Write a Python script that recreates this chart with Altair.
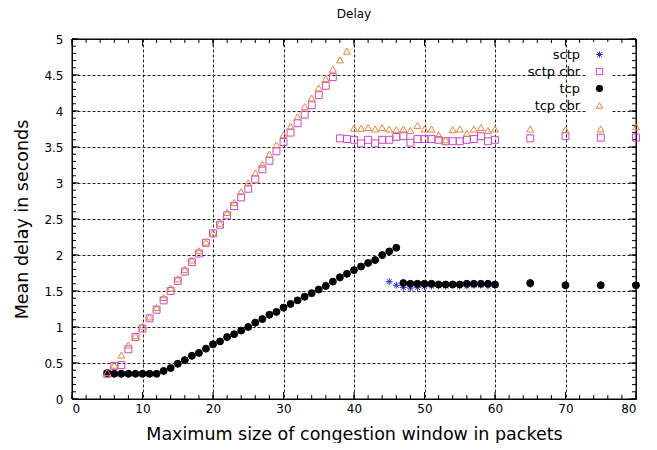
import altair as alt
import pandas as pd

# ---- data ----
window = list(range(5, 61)) + [65, 70, 75, 80]

sctp_y = [0.35, 0.35, 0.35, 0.35, 0.35, 0.35, 0.35, 0.35,
          0.38, 0.43, 0.48, 0.53, 0.59, 0.64, 0.69, 0.75, 0.80, 0.85,
          0.90, 0.95, 1.00, 1.05, 1.11, 1.16, 1.21, 1.26, 1.32, 1.37,
          1.42, 1.47, 1.52, 1.58, 1.63, 1.68, 1.73, 1.79, 1.84, 1.88,
          1.93, 1.99,
          1.63, 1.58, 1.55, 1.54, 1.55, 1.56, 1.57, 1.57, 1.57, 1.58,
          1.57, 1.57, 1.58, 1.58, 1.57, 1.58,
          1.59, 1.58, 1.58, 1.58]

sctp_cbr_y = [0.35, 0.46, 0.47, 0.69, 0.86, 0.98, 1.12, 1.24, 1.37, 1.50,
              1.64, 1.77, 1.90, 2.02, 2.17, 2.30, 2.42, 2.55, 2.68, 2.80,
              2.92, 3.05, 3.19, 3.31, 3.44, 3.57, 3.70, 3.83, 3.95, 4.08,
              4.22, 4.35, 4.47,
              3.62, 3.61, 3.60, 3.55, 3.60, 3.55, 3.60, 3.60, 3.64, 3.65,
              3.56, 3.61, 3.61, 3.61, 3.60, 3.58, 3.58, 3.58, 3.60, 3.61,
              3.65, 3.58, 3.60,
              3.62, 3.65, 3.63, 3.63]

tcp_y = [0.36, 0.35, 0.35, 0.35, 0.35, 0.35, 0.35, 0.35,
         0.39, 0.43, 0.49, 0.54, 0.60, 0.64, 0.70, 0.76, 0.80, 0.86,
         0.90, 0.95, 1.00, 1.06, 1.11, 1.17, 1.21, 1.27, 1.32, 1.37,
         1.42, 1.47, 1.52, 1.57, 1.63, 1.69, 1.74, 1.79, 1.84, 1.89,
         1.93, 2.00, 2.05, 2.10,
         1.61, 1.60, 1.60, 1.60, 1.60, 1.59, 1.59, 1.59, 1.59, 1.60,
         1.60, 1.60, 1.60, 1.59,
         1.61, 1.58, 1.58, 1.58]

tcp_cbr_y = [0.37, 0.47, 0.61, 0.75, 0.88, 1.01, 1.14, 1.27, 1.41, 1.54,
             1.67, 1.80, 1.93, 2.06, 2.18, 2.31, 2.44, 2.59, 2.73, 2.88,
             3.00, 3.14, 3.26, 3.40, 3.53, 3.67, 3.79, 3.92, 4.06, 4.18,
             4.32, 4.45, 4.58, 4.71, 4.83,
             3.76, 3.76, 3.77, 3.75, 3.77, 3.75, 3.74, 3.75, 3.73, 3.80,
             3.75, 3.75, 3.67, 3.60, 3.74, 3.75, 3.69, 3.75, 3.77, 3.73,
             3.75,
             3.75, 3.74, 3.75, 3.78]

series = ["sctp", "sctp cbr", "tcp", "tcp cbr"]
stroke_colors = ["#2a2ae0", "#cc44cc", "#000000", "#e8823c"]
fill_colors = ["transparent", "transparent", "#000000", "transparent"]
STAR = "M-1,0H1M0,-1V1M-0.7,-0.7L0.7,0.7M-0.7,0.7L0.7,-0.7"
shapes = [STAR, "square", "circle", "triangle-up"]

x_major = list(range(0, 81, 10))
x_minor = list(range(0, 81, 2))
y_major = [0, 0.5, 1, 1.5, 2, 2.5, 3, 3.5, 4, 4.5, 5]
y_minor = [round(i * 0.1, 1) for i in range(0, 51)]

rows = []
for name, ys in zip(series, [sctp_y, sctp_cbr_y, tcp_y, tcp_cbr_y]):
    for xv, yv in zip(window, ys):
        rows.append({"window": xv, "delay": yv, "series": name})
df = pd.DataFrame(rows)

FONT = "DejaVu Sans"
W, H = 564, 360
xs = alt.Scale(domain=[0, 80], nice=False, zero=False)
ysc = alt.Scale(domain=[0, 5], nice=False, zero=False)

x_axis = alt.Axis(orient="bottom", values=x_major, format="d",
                  grid=True, gridDash=[3, 2], gridColor="#222222",
                  gridWidth=1, ticks=False, tickSize=0,
                  domain=True, domainColor="#000000", domainWidth=1,
                  labelPadding=4, labelFont=FONT, labelFontSize=12,
                  labelColor="#000000",
                  title="Maximum size of congestion window in packets",
                  titleFont=FONT, titleFontSize=17.5,
                  titleFontWeight="normal", titleColor="#000000",
                  titlePadding=11)
y_axis = alt.Axis(orient="left", values=y_major, format="~g",
                  grid=True, gridDash=[3, 2], gridColor="#222222",
                  gridWidth=1, ticks=False, tickSize=0,
                  domain=True, domainColor="#000000", domainWidth=1,
                  labelPadding=9, labelFont=FONT, labelFontSize=12,
                  labelColor="#000000",
                  title="Mean delay in seconds",
                  titleFont=FONT, titleFontSize=17.5,
                  titleFontWeight="normal", titleColor="#000000",
                  titlePadding=12)


def xticks(vals, edge, length):
    inner = edge - length if edge > 0 else edge + length
    return alt.Chart(pd.DataFrame({"v": vals})).mark_rule(
        color="#000000", strokeWidth=1).encode(
        x=alt.X("v:Q", scale=xs, axis=None),
        y=alt.value(edge), y2=alt.value(inner))


def yticks(vals, edge, length):
    inner = edge - length if edge > 0 else edge + length
    return alt.Chart(pd.DataFrame({"v": vals})).mark_rule(
        color="#000000", strokeWidth=1).encode(
        y=alt.Y("v:Q", scale=ysc, axis=None),
        x=alt.value(edge), x2=alt.value(inner))


# box round the plot, from the domain ends of both scales
box = alt.Chart(pd.DataFrame({"x0": [0], "x1": [80], "y0": [0], "y1": [5]})).mark_rect(
    fill="transparent", stroke="#000000", strokeWidth=1).encode(
    x=alt.X("x0:Q", scale=xs, axis=None), x2="x1:Q",
    y=alt.Y("y0:Q", scale=ysc, axis=None), y2="y1:Q")

leg = alt.Legend(title=None, orient="none", legendX=515, legendY=3,
                 fillColor="#ffffff", padding=6, labelAlign="right",
                 labelOffset={"expr": "-26"}, labelFont=FONT, labelFontSize=13,
                 labelColor="#000000", symbolSize=40, symbolStrokeWidth=1,
                 rowPadding=3)

points = alt.Chart(df).mark_point(size=48, strokeWidth=1, opacity=1).encode(
    x=alt.X("window:Q", scale=xs, axis=x_axis),
    y=alt.Y("delay:Q", scale=ysc, axis=y_axis),
    stroke=alt.Stroke("series:N", scale=alt.Scale(domain=series, range=stroke_colors), legend=leg),
    fill=alt.Fill("series:N", scale=alt.Scale(domain=series, range=fill_colors), legend=leg),
    shape=alt.Shape("series:N", scale=alt.Scale(domain=series, range=shapes), legend=leg),
)

chart = alt.layer(
    box,
    xticks(x_major, H, 7), xticks(x_minor, H, 4),
    xticks(x_major, 0, 7), xticks(x_minor, 0, 4),
    yticks(y_major, 0, 7), yticks(y_minor, 0, 4),
    yticks(y_major, W, 7), yticks(y_minor, W, 4),
    points,
).resolve_axis(x="independent", y="independent").properties(
    width=W, height=H,
    autosize=alt.AutoSizeParams(type="none"),
    padding={"left": 64, "top": 31, "right": 13, "bottom": 44},
    title=alt.TitleParams("Delay", font=FONT, fontSize=12, fontWeight="normal",
                          color="#000000", anchor="middle", offset=12),
).configure(background="#ffffff").configure_view(stroke="#000000", strokeWidth=1)

chart.save("out.html", embed_options={"renderer": "svg", "actions": False})
